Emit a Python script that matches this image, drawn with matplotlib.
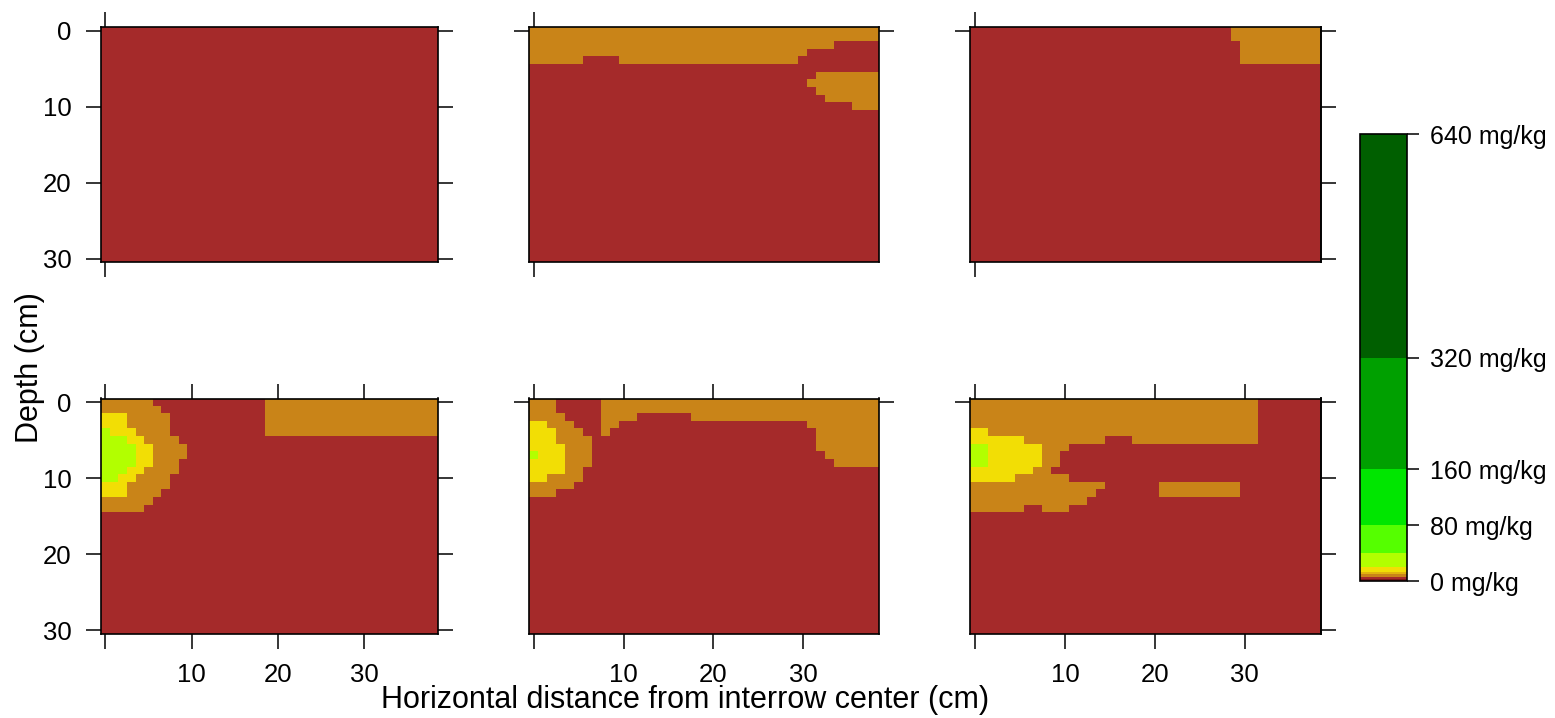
import re
import numpy as np
import matplotlib
matplotlib.use("Agg")
import matplotlib.pyplot as plt
from matplotlib.colors import ListedColormap, BoundaryNorm
from matplotlib.cm import ScalarMappable

plt.rcParams['font.family'] = ['Liberation Sans', 'DejaVu Sans']

# ---------------- data ----------------
x_centers = np.arange(0, 39)        # horizontal distance (cm), 1-cm cells
depth_centers = np.arange(0, 31)    # depth (cm), 1-cm cells

level_bounds = [0, 3, 6, 10, 13, 20, 40, 80, 160, 320, 640]
level_colors = ['#7B1818', '#A52A2A', '#C98418', '#E2B40E', '#F2DE05',
                '#B2FF00', '#55FF00', '#00E600', '#00A000', '#005F00']
cbar_ticks = [0, 80, 160, 320, 640]
cbar_labels = ['0 mg/kg', '80 mg/kg', '160 mg/kg', '320 mg/kg', '640 mg/kg']

# concentration class (mg/kg)
class_values = {'.': 4, 'o': 8, 'y': 15, 'g': 30}

# run-length rows (depth 0..30), each row 39 cells (x 0..38)
panel_top_left = ["39."] * 31

panel_top_mid = ["39o", "39o", "34o5.", "31o8.", "6o4.20o9.", "39.",
                 "32.7o", "31.8o", "32.7o", "33.6o", "36.3o"] + ["39."] * 20

panel_top_right = ["29.10o", "29.10o", "30.9o", "30.9o", "30.9o"] + ["39."] * 26

panel_bot_left = ["6o13.20o", "7o12.20o", "3y5o11.20o", "3y5o11.20o",
                  "1g3y4o11.20o", "3g2y4o30.", "4g2y4o29.", "4g2y4o29.",
                  "4g2y3o30.", "3g2y4o30.", "2g2y4o31.", "3y5o31.",
                  "3y4o32.", "6o33.", "5o34."] + ["39."] * 16

panel_bot_mid = ["3o5.31o", "3o5.31o", "4o4.4o6.21o", "2y3o3.2o21.8o",
                 "3y3o2.1o23.7o", "3y4o25.7o", "4y3o25.7o", "1g3y3o26.6o",
                 "4y3o27.5o", "4y2o33.", "2y4o33.", "5o34.", "3o36."] + ["39."] * 18

panel_bot_right = ["32o7.", "32o7.", "32o7.", "32o7.", "2y30o7.",
                   "6y9o3.14o7.", "2g6y3o28.", "2g6y2o29.", "2g6y2o29.",
                   "7y2o30.", "5y6o28.", "15o6.9o9.", "14o7.9o9.",
                   "13o26.", "6o2.3o28."] + ["39."] * 16

panels = [[panel_top_left, panel_top_mid, panel_top_right],
          [panel_bot_left, panel_bot_mid, panel_bot_right]]


def decode(rows):
    grid = []
    for row in rows:
        cells = []
        for n, c in re.findall(r'(\d+)([.oyg])', row):
            cells += [class_values[c]] * int(n)
        grid.append(cells[:len(x_centers)])
    return np.array(grid, dtype=float)


# ---------------- figure ----------------
W, H = 1555, 718
fig = plt.figure(figsize=(W / 100, H / 100), dpi=100)


def add_ax(x0, x1, y0, y1):
    return fig.add_axes([x0 / W, 1 - y1 / H, (x1 - x0) / W, (y1 - y0) / H])


cmap = ListedColormap(level_colors)
norm = BoundaryNorm(level_bounds, cmap.N)

col_px = [(101, 437.7), (529.3, 879.3), (970.5, 1321.3)]
row_px = [(26.7, 262.3), (398.5, 634)]

x0e, x1e = x_centers[0] - 0.5, x_centers[-1] + 0.5
y0e, y1e = depth_centers[0] - 0.5, depth_centers[-1] + 0.5

TL, TW, LS = 11, 1.1, 18.5

for r in range(2):
    for c in range(3):
        ax = add_ax(col_px[c][0], col_px[c][1], row_px[r][0], row_px[r][1])
        z = decode(panels[r][c])
        ax.imshow(z, cmap=cmap, norm=norm, extent=(x0e, x1e, y1e, y0e),
                  aspect='auto', interpolation='nearest', origin='upper')
        ax.set_xlim(x0e, x1e)
        ax.set_ylim(y1e, y0e)
        for s in ax.spines.values():
            s.set_linewidth(1.2)
        ax.tick_params(direction='out', length=TL, width=TW, labelsize=LS,
                       top=True, bottom=True, left=True, right=True,
                       labeltop=False, labelright=False)
        ax.tick_params(axis='x', pad=10)
        ax.tick_params(axis='y', pad=10)
        if r == 0:
            ax.set_xticks([0])
            ax.tick_params(labelbottom=False)
        else:
            ax.set_xticks([0, 10, 20, 30])
            ax.set_xticklabels(['', '10', '20', '30'])
        if c == 0:
            ax.set_yticks([0, 10, 20, 30])
            ax.set_yticklabels(['0', '10', '20', '30'])
        else:
            ax.set_yticks([0])
            ax.tick_params(labelleft=False)
        if c == 2:
            ax.tick_params(right=False)
            sec = ax.secondary_yaxis('right')
            sec.set_yticks([0, 10, 20, 30])
            sec.tick_params(direction='out', length=TL, width=TW,
                            labelright=False)
            sec.spines['right'].set_linewidth(1.2)

# colour key
cax = add_ax(1360, 1406.7, 134.3, 581)
cb = fig.colorbar(ScalarMappable(norm=norm, cmap=cmap), cax=cax,
                  spacing='proportional', ticks=cbar_ticks)
cb.ax.set_yticklabels(cbar_labels)
cb.ax.tick_params(length=8.5, width=1.1, labelsize=18, pad=8)
cb.outline.set_linewidth(1.2)
cb.ax.minorticks_off()

fig.text(685 / W, 1 - 700 / H, "Horizontal distance from interrow center (cm)",
         ha='center', va='center', fontsize=22)
fig.text(30 / W, 1 - 368 / H, "Depth (cm)", rotation=90,
         ha='center', va='center', fontsize=22)

fig.savefig("out.png", dpi=100)
